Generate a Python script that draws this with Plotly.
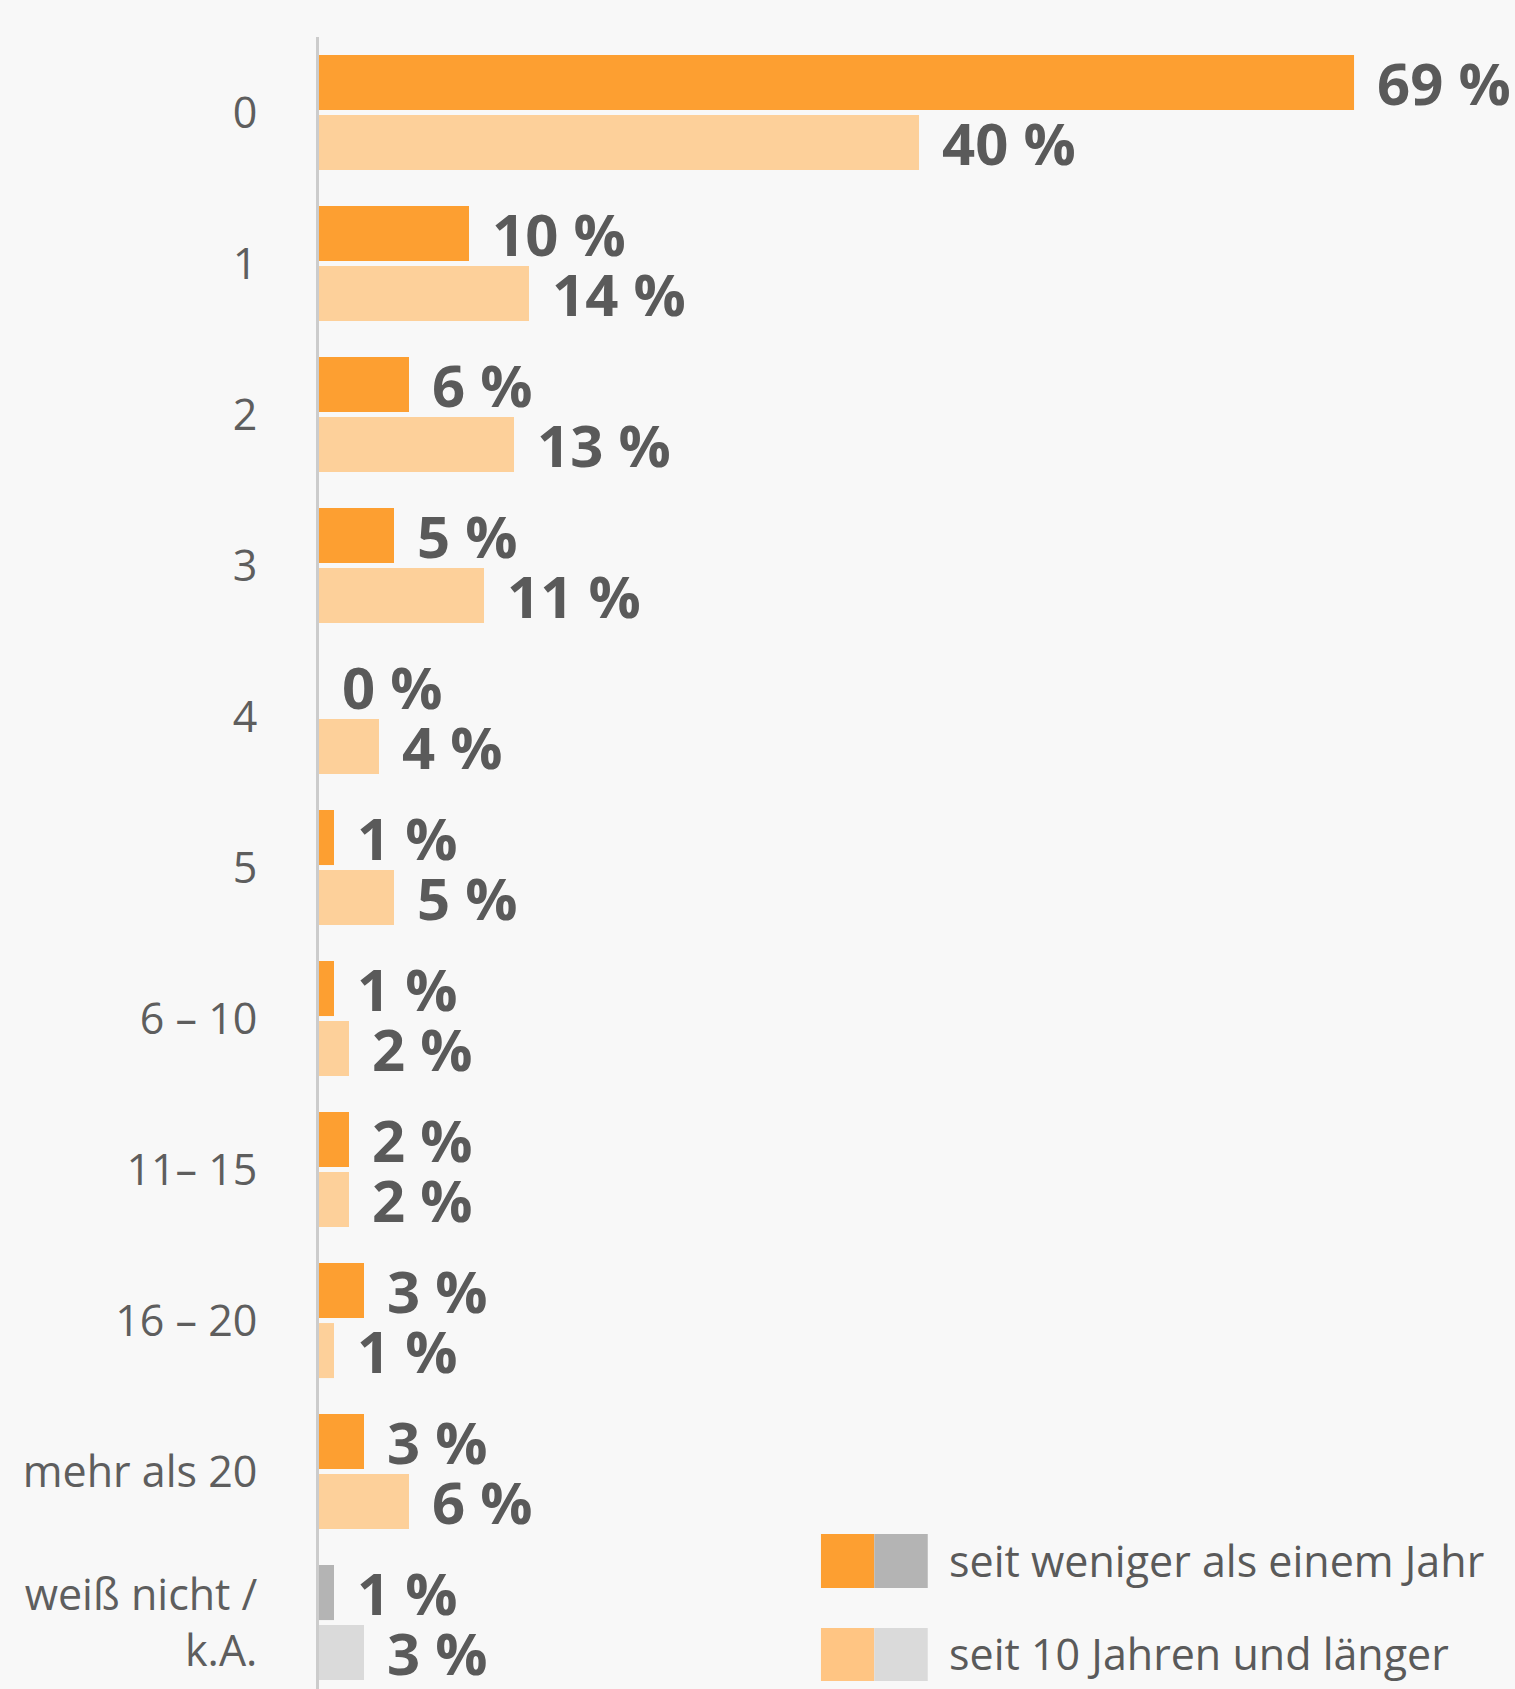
import plotly.graph_objects as go

# Kategorien (Anzahl) und Anteile in Prozent
kategorien = ["0", "1", "2", "3", "4", "5", "6 – 10", "11– 15", "16 – 20",
              "mehr als 20", "weiß nicht /<br>k.A."]
weniger_als_ein_jahr = [69, 10, 6, 5, 0, 1, 1, 2, 3, 3, 1]
zehn_jahre_und_laenger = [40, 14, 13, 11, 4, 5, 2, 2, 1, 6, 3]

serien = ["seit weniger als einem Jahr", "seit 10 Jahren und länger"]

ORANGE = "#FD9F31"
ORANGE_HELL = "#FDD09A"
GRAU = "#B4B4B4"
GRAU_HELL = "#DADADA"
TEXT = "#5A5A5A"
BG = "#F8F8F8"

# letzte Kategorie (weiß nicht / k.A.) in grau
farben_1 = [ORANGE] * (len(kategorien) - 1) + [GRAU]
farben_2 = [ORANGE_HELL] * (len(kategorien) - 1) + [GRAU_HELL]

fig = go.Figure()
fig.add_trace(go.Bar(
    y=kategorien, x=weniger_als_ein_jahr, orientation="h",
    marker=dict(color=farben_1, line=dict(width=0)), name=serien[0],
))
fig.add_trace(go.Bar(
    y=kategorien, x=zehn_jahre_und_laenger, orientation="h",
    marker=dict(color=farben_2, line=dict(width=0)), name=serien[1],
))

# Wertebeschriftungen
label_font = dict(family="Open Sans", size=58, color=TEXT)
for werte, shift in [(weniger_als_ein_jahr, 30), (zehn_jahre_und_laenger, -30)]:
    for kat, v in zip(kategorien, werte):
        fig.add_annotation(
            x=v, y=kat, text=f"<b>{v} %</b>", showarrow=False,
            xanchor="left", yanchor="middle", xshift=21, yshift=shift,
            font=label_font,
        )

# Legende (zweigeteilte Farbfelder)
leg_font = dict(family="Open Sans", size=43, color=TEXT)
for (y0, y1, ytxt), (c1, c2), name in zip(
    [(0.0611, 0.0938, 0.0775), (0.0048, 0.0369, 0.0212)],
    [(ORANGE, GRAU), ("#FFC583", GRAU_HELL)],
    serien,
):
    fig.add_shape(type="rect", xref="paper", yref="paper",
                  x0=0.4197, x1=0.4643, y0=y0, y1=y1,
                  fillcolor=c1, line=dict(width=0))
    fig.add_shape(type="rect", xref="paper", yref="paper",
                  x0=0.4643, x1=0.509, y0=y0, y1=y1,
                  fillcolor=c2, line=dict(width=0))
    fig.add_annotation(x=0.5250, y=ytxt, xref="paper", yref="paper",
                       text=name, showarrow=False, xanchor="left",
                       yanchor="middle", font=leg_font)

fig.update_layout(
    width=1515, height=1689,
    margin=dict(l=319, r=0, t=37, b=0),
    paper_bgcolor=BG, plot_bgcolor=BG,
    barmode="group", bargap=0.205, bargroupgap=0.083,
    showlegend=False,
    font=dict(family="Open Sans", color=TEXT),
)
fig.update_xaxes(range=[0, 79.73], visible=False, showgrid=False, zeroline=False)
fig.update_yaxes(
    range=[10.44, -0.5], showgrid=False, zeroline=False,
    showline=True, linecolor="#CCCCCC", linewidth=3,
    ticks="", ticklabelstandoff=50,
    tickfont=dict(family="Open Sans", size=43, color="#5E5E5E"),
)

# Seitenrand entfernen, damit die Grafik bündig im Fenster sitzt
fig.write_html(
    "out.html",
    config={"displayModeBar": False},
    post_script="document.body.style.margin='0';",
)
